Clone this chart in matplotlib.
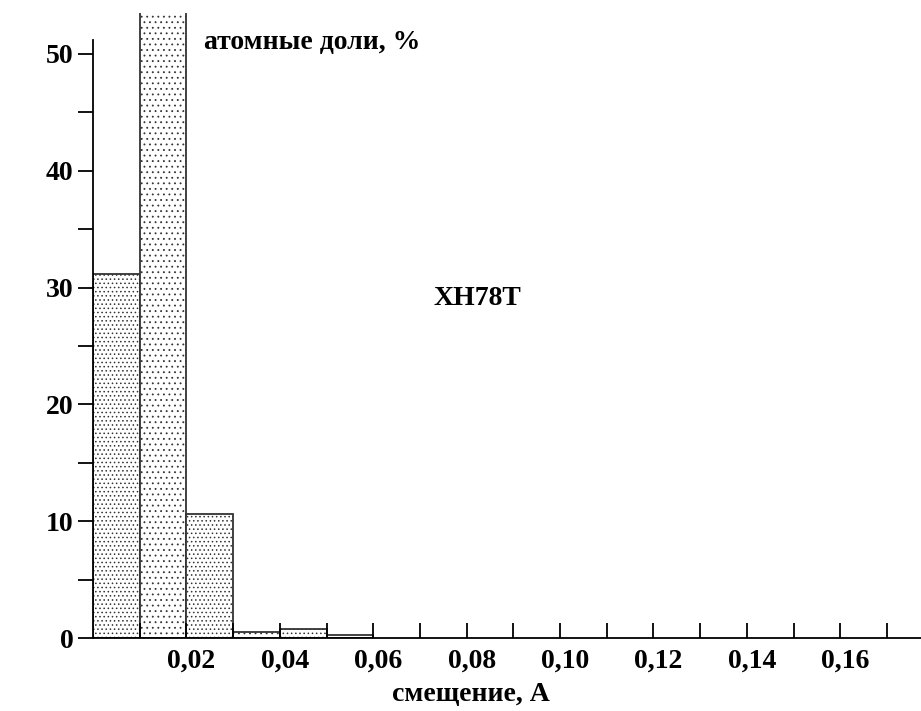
import numpy as np
import matplotlib.pyplot as plt

plt.rcParams['font.family'] = ['Liberation Serif', 'DejaVu Serif']
plt.rcParams['font.weight'] = 'bold'
plt.rcParams['hatch.linewidth'] = 0.6
plt.rcParams['hatch.color'] = '#444444'

# histogram: bin left edges (A), bin width, share of atoms (%)
bin_left = [0.00, 0.01, 0.02, 0.03, 0.04, 0.05]
bin_width = 0.01
shares = [31.2, 60.0, 10.6, 0.5, 0.75, 0.25]
hatches = ['....', '...', '....', '...', '....', '']

y_major = [0, 10, 20, 30, 40, 50]
y_minor = [5, 15, 25, 35, 45]
x_ticks = np.round(np.arange(0.01, 0.18, 0.01), 2)
x_labels = [0.02, 0.04, 0.06, 0.08, 0.10, 0.12, 0.14, 0.16]

fig = plt.figure(figsize=(9.21, 7.11), dpi=100)
ax = fig.add_axes([93 / 921, 73 / 711, 828 / 921, 625 / 711])

for x, h, hs in zip(bin_left, shares, hatches):
    ax.bar(x, h, width=bin_width, align='edge', facecolor='white',
           edgecolor='#333333', hatch=hs, linewidth=1.3)

ax.set_xlim(0, 0.1773)
ax.set_ylim(0, 53.5)

for s in ['top', 'right']:
    ax.spines[s].set_visible(False)
ax.spines['left'].set_bounds(0, 51.2)
ax.spines['left'].set_linewidth(1.3)
ax.spines['bottom'].set_linewidth(1.3)

ax.set_yticks(y_major)
ax.set_yticks(y_minor, minor=True)
ax.set_yticklabels([str(v) for v in y_major], fontsize=20, fontweight='bold')
ax.tick_params(axis='y', which='both', direction='out', length=11, width=1.3, pad=3)

ax.set_xticks(x_ticks)
ax.set_xticklabels([])
ax.tick_params(axis='x', direction='in', length=11, width=1.3)
for v in x_labels:
    ax.annotate(f'{v:.2f}'.replace('.', ','), xy=(v, 0), xycoords='data',
                xytext=(5, -11), textcoords='offset pixels',
                ha='center', va='top', fontsize=20, fontweight='bold')

fig.text(204 / 921, 1 - 42 / 711, 'атомные доли, %', fontsize=20,
         fontweight='bold', ha='left', va='center')
fig.text(477 / 921, 1 - 298 / 711, 'XH78T', fontsize=20,
         fontweight='bold', ha='center', va='center')
fig.text(471 / 921, 1 - 695 / 711, 'смещение, А', fontsize=20,
         fontweight='bold', ha='center', va='center')

fig.savefig('out.png', dpi=100)
